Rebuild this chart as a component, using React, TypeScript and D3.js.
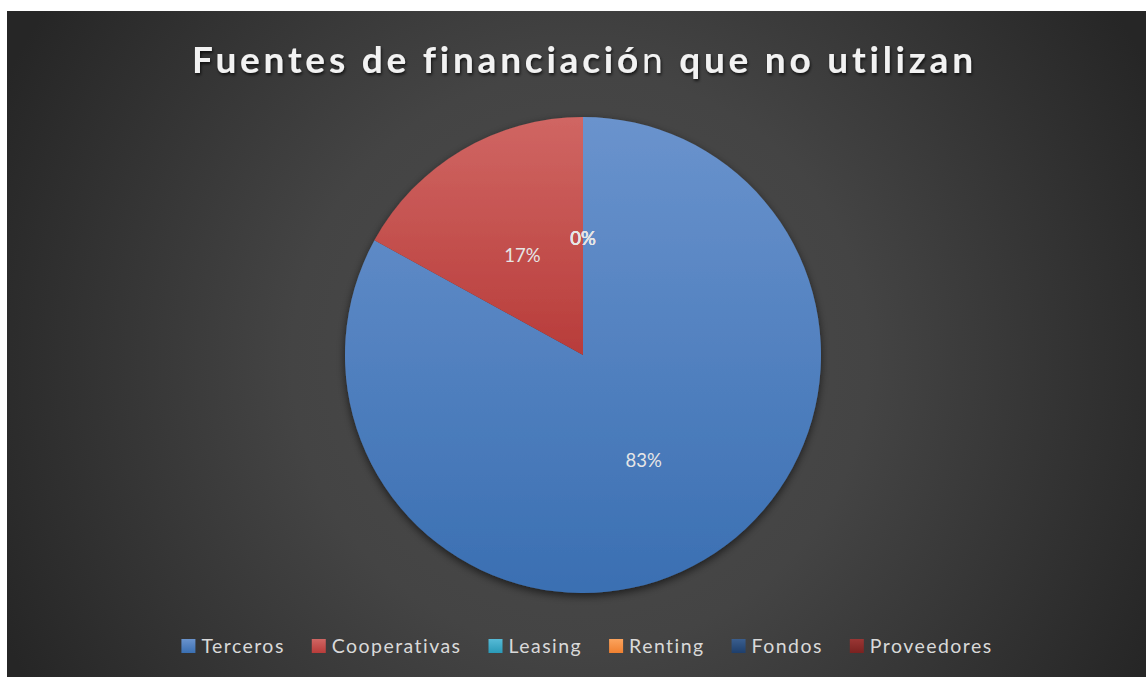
import * as d3 from 'd3';
import { useEffect, useRef } from 'react';

const W = 1146;
const H = 677;

const categories = ['Terceros', 'Cooperativas', 'Leasing', 'Renting', 'Fondos', 'Proveedores'];
const values = [83, 17, 0, 0, 0, 0];
const labels = ['83%', '17%', '0%', '0%', '0%', '0%'];
const gradTop = ['#6a93cd', '#d06663', '#56bad6', '#fba35d', '#3a5e8e', '#9a3634'];
const gradBottom = ['#3a6fb2', '#b83c3a', '#2a9ab8', '#f08030', '#1e3f6c', '#7a2220'];

const FONT = 'Lato, "Open Sans", sans-serif';

export default function App() {
  const svgRef = useRef<SVGSVGElement>(null);

  useEffect(() => {
    document.body.style.margin = '0';
    if (!svgRef.current) return;
    const svg = d3.select(svgRef.current);
    svg.selectAll('*').remove();

    const defs = svg.append('defs');
    const bg = defs
      .append('radialGradient')
      .attr('id', 'bg')
      .attr('gradientUnits', 'userSpaceOnUse')
      .attr('cx', 580)
      .attr('cy', 360)
      .attr('r', 640);
    bg.append('stop').attr('offset', 0).attr('stop-color', '#4c4c4c');
    bg.append('stop').attr('offset', 0.45).attr('stop-color', '#444444');
    bg.append('stop').attr('offset', 1).attr('stop-color', '#262626');

    categories.forEach((_, i) => {
      const g = defs
        .append('linearGradient')
        .attr('id', `slice${i}`)
        .attr('x1', 0)
        .attr('y1', 0)
        .attr('x2', 0)
        .attr('y2', 1);
      g.append('stop').attr('offset', 0).attr('stop-color', gradTop[i]);
      g.append('stop').attr('offset', 1).attr('stop-color', gradBottom[i]);
    });

    const shadow = defs
      .append('filter')
      .attr('id', 'shadow')
      .attr('x', '-10%')
      .attr('y', '-10%')
      .attr('width', '120%')
      .attr('height', '120%');
    shadow
      .append('feDropShadow')
      .attr('dx', 0)
      .attr('dy', 3)
      .attr('stdDeviation', 4)
      .attr('flood-color', '#000')
      .attr('flood-opacity', 0.6);

    const tshadow = defs.append('filter').attr('id', 'tshadow');
    tshadow
      .append('feDropShadow')
      .attr('dx', 1)
      .attr('dy', 2)
      .attr('stdDeviation', 1.5)
      .attr('flood-color', '#000')
      .attr('flood-opacity', 0.7);

    // Background panel
    svg
      .append('rect')
      .attr('x', 7)
      .attr('y', 11)
      .attr('width', W - 7)
      .attr('height', H - 11)
      .attr('fill', 'url(#bg)');

    // Title
    const title = svg
      .append('text')
      .attr('x', 192)
      .attr('y', 73)
      .attr('font-family', FONT)
      .attr('font-size', 37)
      .attr('fill', '#f2f2f2')
      .attr('filter', 'url(#tshadow)')
      .attr('textLength', 781)
      .attr('lengthAdjust', 'spacing')
      .style('font-variant-ligatures', 'none')
      .style('font-feature-settings', '"liga" 0, "clig" 0');
    title.append('tspan').attr('font-weight', 'bold').text('Fuentes de financiació');
    title.append('tspan').attr('font-weight', 'normal').text('n');
    title.append('tspan').attr('font-weight', 'bold').text(' que no utilizan');

    // Pie
    const cx = 583;
    const cy = 355;
    const r = 238;
    const data = categories.map((c, i) => ({ c, v: values[i], label: labels[i], i }));
    const pie = d3
      .pie<(typeof data)[number]>()
      .sort(null)
      .value((d) => d.v);
    const arcs = pie(data);
    const arc = d3.arc<d3.PieArcDatum<(typeof data)[number]>>().innerRadius(0).outerRadius(r);
    const labelArc = d3
      .arc<d3.PieArcDatum<(typeof data)[number]>>()
      .innerRadius(r * 0.5)
      .outerRadius(r * 0.5);

    const pg = svg.append('g').attr('transform', `translate(${cx},${cy})`);
    pg.append('g')
      .attr('filter', 'url(#shadow)')
      .selectAll('path')
      .data(arcs.filter((a) => a.data.v > 0))
      .join('path')
      .attr('d', arc)
      .attr('fill', (d) => `url(#slice${d.data.i})`);

    pg.selectAll('text.lbl')
      .data(arcs)
      .join('text')
      .attr('class', 'lbl')
      .attr('transform', (d) => {
        const [lx, ly] = labelArc.centroid(d);
        return `translate(${lx},${ly + 3})`;
      })
      .attr('text-anchor', 'middle')
      .attr('dy', '0.35em')
      .attr('font-family', FONT)
      .attr('font-size', 18.5)
      .attr('fill', '#e6e6e6')
      .text((d) => d.data.label);

    // Legend
    const lg = svg.append('g');
    const items = lg
      .selectAll('g')
      .data(categories)
      .join('g');
    items
      .append('rect')
      .attr('width', 14)
      .attr('height', 14)
      .attr('y', -14)
      .attr('fill', (_, i) => `url(#slice${i})`);
    const texts = items
      .append('text')
      .attr('x', 20)
      .attr('font-family', FONT)
      .attr('font-size', 19.5)
      .attr('letter-spacing', 1.45)
      .attr('fill', '#d9d9d9')
      .text((d) => d);
    const widths = texts.nodes().map((n) => (n as SVGTextElement).getComputedTextLength());
    const gap = 27;
    const total = widths.reduce((s, w) => s + 20 + w + gap, 0) - gap;
    let x = 587 - total / 2;
    items.attr('transform', (_, i) => {
      const t = `translate(${x},653)`;
      x += 20 + widths[i] + gap;
      return t;
    });
  }, []);

  return <svg ref={svgRef} width={W} height={H} style={{ display: 'block', background: '#fff' }} />;
}
